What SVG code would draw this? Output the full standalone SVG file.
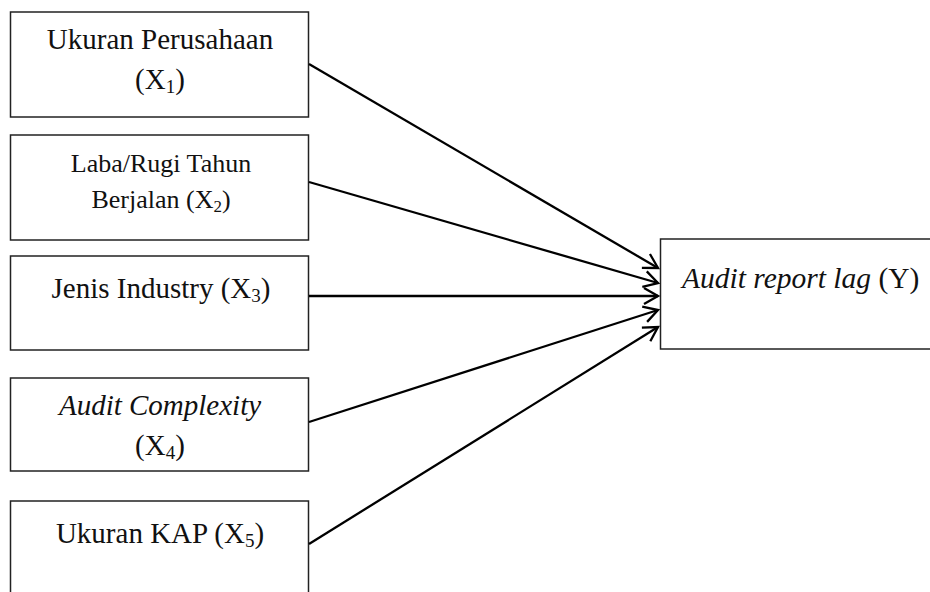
<svg xmlns="http://www.w3.org/2000/svg" width="930" height="592" viewBox="0 0 930 592">
<style>
.box{fill:#fff;stroke:#222;stroke-width:1.5}
.t{font-family:"Liberation Serif","Times New Roman",serif;font-size:29px;fill:#111;text-anchor:middle}
.s{font-size:19px}
.i{font-style:italic}
.conn line{stroke:#000;stroke-width:2.3}
</style>
<defs>
<marker id="arr" markerUnits="userSpaceOnUse" markerWidth="30" markerHeight="30" viewBox="-15 -15 30 30" refX="0" refY="0" orient="auto">
<path d="M-14,-8 L0,0 L-14,8" fill="none" stroke="#000" stroke-width="2.3"/>
</marker>
</defs>
<rect width="930" height="592" fill="#fff"/>
<g id="x1">
<rect class="box" x="10.5" y="12" width="298" height="105"/>
<text class="t" x="160" y="49">Ukuran Perusahaan</text>
<text class="t" x="160" y="89">(X<tspan class="s" dy="4">1</tspan><tspan dy="-4">)</tspan></text>
</g>
<g id="x2">
<rect class="box" x="10.5" y="135" width="298" height="105"/>
<text class="t" x="161" y="172" style="font-size:26px">Laba/Rugi Tahun</text>
<text class="t" x="161" y="208" style="font-size:26px">Berjalan (X<tspan class="s" style="font-size:17px" dy="4">2</tspan><tspan dy="-4">)</tspan></text>
</g>
<g id="x3">
<rect class="box" x="10.5" y="256" width="298" height="94"/>
<text class="t" x="161" y="298">Jenis Industry (X<tspan class="s" dy="4">3</tspan><tspan dy="-4">)</tspan></text>
</g>
<g id="x4">
<rect class="box" x="10.5" y="378" width="298" height="93"/>
<text class="t i" x="160" y="415">Audit Complexity</text>
<text class="t" x="160" y="455">(X<tspan class="s" dy="4">4</tspan><tspan dy="-4">)</tspan></text>
</g>
<g id="x5">
<rect class="box" x="10.5" y="501" width="298" height="100"/>
<text class="t" x="160" y="543">Ukuran KAP (X<tspan class="s" dy="4">5</tspan><tspan dy="-4">)</tspan></text>
</g>
<g id="y">
<rect class="box" x="660.5" y="239" width="280" height="110"/>
<text class="t" x="682" y="288" style="text-anchor:start;font-size:29.5px"><tspan class="i">Audit report lag</tspan> (Y)</text>
</g>
<g class="conn">
<line x1="309" y1="64" x2="658" y2="268" marker-end="url(#arr)"/>
<line x1="309" y1="182" x2="658" y2="283" marker-end="url(#arr)"/>
<line x1="309" y1="296" x2="658" y2="296" marker-end="url(#arr)"/>
<line x1="309" y1="422" x2="658" y2="310" marker-end="url(#arr)"/>
<line x1="309" y1="544" x2="658" y2="327" marker-end="url(#arr)"/>
</g>
</svg>
